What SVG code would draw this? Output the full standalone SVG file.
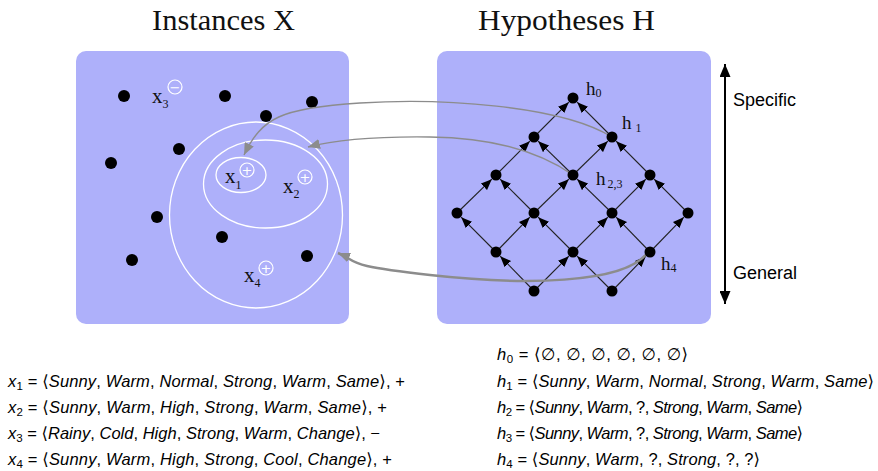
<svg xmlns="http://www.w3.org/2000/svg" width="878" height="471" viewBox="0 0 878 471">
<style>
.panel{fill:#AEB0FA}
.title{font-family:"Liberation Serif",serif;font-size:29px;fill:#111}
.dot{fill:#000}
.ell{fill:none;stroke:#fff;stroke-width:1.3}
.sym{fill:none;stroke:#fff;stroke-width:1.2}
.symt{font-family:"DejaVu Sans",sans-serif;font-size:13px;fill:#fff;text-anchor:middle}
.lab{font-family:"Liberation Serif",serif;font-size:21px;fill:#111}
.hlab{font-family:"Liberation Serif",serif;font-size:19px;fill:#111}
.sub{font-size:12px}
.edge{stroke:#222;stroke-width:1.1;fill:none}
.curve{stroke:#8c8c8c;stroke-width:1.4;fill:none}
.side{font-family:"Liberation Sans",sans-serif;font-size:18px;fill:#000}
.f{font-family:"Liberation Sans","DejaVu Sans",sans-serif;font-size:16.5px;fill:#000}
.it{font-style:italic}
.fs{font-size:11.5px}
</style>
<defs>
<marker id="ah" markerUnits="userSpaceOnUse" markerWidth="11" markerHeight="9" refX="11" refY="4.5" orient="auto"><path d="M0,0 L11,4.5 L0,9 z" fill="#000"/></marker>
<marker id="gh" markerUnits="userSpaceOnUse" markerWidth="12" markerHeight="10" refX="12" refY="5" orient="auto"><path d="M0,0 L12,5 L0,10 z" fill="#8c8c8c"/></marker>
<marker id="bh" markerUnits="userSpaceOnUse" markerWidth="13" markerHeight="11" refX="13" refY="5.5" orient="auto-start-reverse" viewBox="0 0 13 11"><path d="M0,0 L13,5.5 L0,11 z" fill="#000"/></marker>
</defs>

<text class="title" x="152" y="30" textLength="143" lengthAdjust="spacingAndGlyphs">Instances X</text>
<text class="title" x="478" y="30" textLength="177" lengthAdjust="spacingAndGlyphs">Hypotheses H</text>

<g id="instances">
<rect class="panel" x="76" y="51" width="273" height="273" rx="10"/>
<ellipse class="ell" cx="256" cy="215" rx="86.5" ry="93"/>
<ellipse class="ell" cx="265.5" cy="184" rx="62" ry="44"/>
<ellipse class="ell" cx="241" cy="175" rx="25" ry="17.5"/>
<circle class="dot" cx="124" cy="96" r="6"/>
<circle class="dot" cx="225" cy="96" r="6"/>
<circle class="dot" cx="312" cy="102" r="6"/>
<circle class="dot" cx="266" cy="116" r="6"/>
<circle class="dot" cx="179" cy="149" r="6"/>
<circle class="dot" cx="111" cy="163" r="6"/>
<circle class="dot" cx="157" cy="217" r="6"/>
<circle class="dot" cx="222" cy="237" r="6"/>
<circle class="dot" cx="307" cy="256" r="6"/>
<circle class="dot" cx="132" cy="260" r="6"/>
</g>

<g id="x3">
<text class="lab" x="152" y="103">x<tspan class="sub" dy="5">3</tspan></text>
<circle class="sym" cx="175" cy="87" r="7"/><text class="symt" x="175" y="91.5">−</text>
</g>
<g id="x1">
<text class="lab" x="225" y="183">x<tspan class="sub" dy="6">1</tspan></text>
<circle class="sym" cx="247" cy="170" r="7"/><text class="symt" x="247" y="174.5">+</text>
</g>
<g id="x2">
<text class="lab" x="283" y="193">x<tspan class="sub" dy="5">2</tspan></text>
<circle class="sym" cx="305" cy="177" r="7"/><text class="symt" x="305" y="181.5">+</text>
</g>
<g id="x4">
<text class="lab" x="244" y="282">x<tspan class="sub" dy="5">4</tspan></text>
<circle class="sym" cx="266" cy="268" r="7"/><text class="symt" x="266" y="272.5">+</text>
</g>

<g id="hypotheses">
<rect class="panel" x="437" y="51" width="274" height="273" rx="10"/>
</g>

<g id="lattice-edges">
<line class="edge" x1="534" y1="137" x2="568.8" y2="102.2" marker-end="url(#ah)"/>
<line class="edge" x1="612" y1="137" x2="577.2" y2="102.2" marker-end="url(#ah)"/>
<line class="edge" x1="496" y1="175" x2="529.8" y2="141.2" marker-end="url(#ah)"/>
<line class="edge" x1="573" y1="175" x2="538.2" y2="141.2" marker-end="url(#ah)"/>
<line class="edge" x1="573" y1="175" x2="607.8" y2="141.2" marker-end="url(#ah)"/>
<line class="edge" x1="650" y1="175" x2="616.2" y2="141.2" marker-end="url(#ah)"/>
<line class="edge" x1="457" y1="213" x2="491.8" y2="179.2" marker-end="url(#ah)"/>
<line class="edge" x1="534" y1="213" x2="500.2" y2="179.2" marker-end="url(#ah)"/>
<line class="edge" x1="534" y1="213" x2="568.8" y2="179.2" marker-end="url(#ah)"/>
<line class="edge" x1="612" y1="213" x2="577.2" y2="179.2" marker-end="url(#ah)"/>
<line class="edge" x1="612" y1="213" x2="645.8" y2="179.2" marker-end="url(#ah)"/>
<line class="edge" x1="688" y1="213" x2="654.2" y2="179.2" marker-end="url(#ah)"/>
<line class="edge" x1="496" y1="252" x2="461.2" y2="217.2" marker-end="url(#ah)"/>
<line class="edge" x1="496" y1="252" x2="529.8" y2="217.2" marker-end="url(#ah)"/>
<line class="edge" x1="573" y1="252" x2="538.2" y2="217.2" marker-end="url(#ah)"/>
<line class="edge" x1="573" y1="252" x2="607.8" y2="217.2" marker-end="url(#ah)"/>
<line class="edge" x1="650" y1="252" x2="616.2" y2="217.2" marker-end="url(#ah)"/>
<line class="edge" x1="650" y1="252" x2="683.8" y2="217.2" marker-end="url(#ah)"/>
<line class="edge" x1="534" y1="291" x2="500.2" y2="256.2" marker-end="url(#ah)"/>
<line class="edge" x1="534" y1="291" x2="568.8" y2="256.2" marker-end="url(#ah)"/>
<line class="edge" x1="612" y1="291" x2="577.2" y2="256.2" marker-end="url(#ah)"/>
<line class="edge" x1="612" y1="291" x2="645.8" y2="256.2" marker-end="url(#ah)"/>
</g>

<g id="connectors">
<path class="curve" d="M612,137 C560,105 440,98 360,103 S262,118 244,155" marker-end="url(#gh)"/>
<path class="curve" d="M573,175 Q520,138 430,137 Q350,136 308,147" marker-end="url(#gh)"/>
<path class="curve" style="stroke-width:2.5" d="M648,252 C625,285 520,285 430,275 S360,262 338,253" marker-end="url(#gh)"/>
</g>

<g id="lattice-nodes">
<circle class="dot" cx="573" cy="98" r="5.5"/>
<circle class="dot" cx="534" cy="137" r="5.5"/>
<circle class="dot" cx="612" cy="137" r="5.5"/>
<circle class="dot" cx="496" cy="175" r="5.5"/>
<circle class="dot" cx="573" cy="175" r="5.5"/>
<circle class="dot" cx="650" cy="175" r="5.5"/>
<circle class="dot" cx="457" cy="213" r="5.5"/>
<circle class="dot" cx="534" cy="213" r="5.5"/>
<circle class="dot" cx="612" cy="213" r="5.5"/>
<circle class="dot" cx="688" cy="213" r="5.5"/>
<circle class="dot" cx="496" cy="252" r="5.5"/>
<circle class="dot" cx="573" cy="252" r="5.5"/>
<circle class="dot" cx="650" cy="252" r="5.5"/>
<circle class="dot" cx="534" cy="291" r="5.5"/>
<circle class="dot" cx="612" cy="291" r="5.5"/>
</g>

<g id="h-labels">
<text class="hlab" x="586" y="95">h<tspan class="sub" dy="2">0</tspan></text>
<text class="hlab" x="622" y="129">h<tspan class="sub" dx="4" dy="3">1</tspan></text>
<text class="hlab" x="596" y="185">h<tspan class="sub" dx="2" dy="3">2,3</tspan></text>
<text class="hlab" x="661" y="270">h<tspan class="sub" dy="2">4</tspan></text>
</g>

<g id="scale">
<line x1="725" y1="64" x2="725" y2="304" stroke="#000" stroke-width="2" marker-start="url(#bh)" marker-end="url(#bh)"/>
<text class="side" x="733" y="106">Specific</text>
<text class="side" x="733" y="279">General</text>
</g>

<g id="examples">
<text class="f" x="8" y="387" textLength="397" lengthAdjust="spacing"><tspan class="it">x</tspan><tspan class="fs" dy="2.5">1</tspan><tspan dy="-2.5"> = ⟨</tspan><tspan class="it">Sunny</tspan>, <tspan class="it">Warm</tspan>, <tspan class="it">Normal</tspan>, <tspan class="it">Strong</tspan>, <tspan class="it">Warm</tspan>, <tspan class="it">Same</tspan>⟩, +</text>
<text class="f" x="8" y="413" textLength="379" lengthAdjust="spacing"><tspan class="it">x</tspan><tspan class="fs" dy="2.5">2</tspan><tspan dy="-2.5"> = ⟨</tspan><tspan class="it">Sunny</tspan>, <tspan class="it">Warm</tspan>, <tspan class="it">High</tspan>, <tspan class="it">Strong</tspan>, <tspan class="it">Warm</tspan>, <tspan class="it">Same</tspan>⟩, +</text>
<text class="f" x="8" y="439" textLength="372" lengthAdjust="spacing"><tspan class="it">x</tspan><tspan class="fs" dy="2.5">3</tspan><tspan dy="-2.5"> = ⟨</tspan><tspan class="it">Rainy</tspan>, <tspan class="it">Cold</tspan>, <tspan class="it">High</tspan>, <tspan class="it">Strong</tspan>, <tspan class="it">Warm</tspan>, <tspan class="it">Change</tspan>⟩, −</text>
<text class="f" x="8" y="465" textLength="384" lengthAdjust="spacing"><tspan class="it">x</tspan><tspan class="fs" dy="2.5">4</tspan><tspan dy="-2.5"> = ⟨</tspan><tspan class="it">Sunny</tspan>, <tspan class="it">Warm</tspan>, <tspan class="it">High</tspan>, <tspan class="it">Strong</tspan>, <tspan class="it">Cool</tspan>, <tspan class="it">Change</tspan>⟩, +</text>

<text class="f" x="497" y="360" textLength="191" lengthAdjust="spacing"><tspan class="it">h</tspan><tspan class="fs" dy="2.5">0</tspan><tspan dy="-2.5"> = ⟨∅, ∅, ∅, ∅, ∅, ∅⟩</tspan></text>
<text class="f" x="497" y="387" textLength="377" lengthAdjust="spacing"><tspan class="it">h</tspan><tspan class="fs" dy="2.5">1</tspan><tspan dy="-2.5"> = ⟨</tspan><tspan class="it">Sunny</tspan>, <tspan class="it">Warm</tspan>, <tspan class="it">Normal</tspan>, <tspan class="it">Strong</tspan>, <tspan class="it">Warm</tspan>, <tspan class="it">Same</tspan>⟩</text>
<text class="f" x="497" y="413" textLength="306" lengthAdjust="spacing"><tspan class="it">h</tspan><tspan class="fs" dy="2.5">2</tspan><tspan dy="-2.5"> = ⟨</tspan><tspan class="it">Sunny</tspan>, <tspan class="it">Warm</tspan>, ?, <tspan class="it">Strong</tspan>, <tspan class="it">Warm</tspan>, <tspan class="it">Same</tspan>⟩</text>
<text class="f" x="497" y="439" textLength="306" lengthAdjust="spacing"><tspan class="it">h</tspan><tspan class="fs" dy="2.5">3</tspan><tspan dy="-2.5"> = ⟨</tspan><tspan class="it">Sunny</tspan>, <tspan class="it">Warm</tspan>, ?, <tspan class="it">Strong</tspan>, <tspan class="it">Warm</tspan>, <tspan class="it">Same</tspan>⟩</text>
<text class="f" x="497" y="465" textLength="263" lengthAdjust="spacing"><tspan class="it">h</tspan><tspan class="fs" dy="2.5">4</tspan><tspan dy="-2.5"> = ⟨</tspan><tspan class="it">Sunny</tspan>, <tspan class="it">Warm</tspan>, ?, <tspan class="it">Strong</tspan>, ?, ?⟩</text>
</g>
</svg>
